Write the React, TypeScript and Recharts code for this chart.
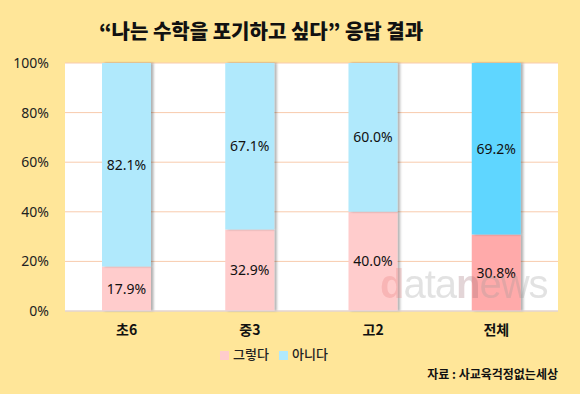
import React from "react";
import {
  BarChart,
  Bar,
  XAxis,
  YAxis,
  CartesianGrid,
  Legend,
  LabelList,
  Cell,
} from "recharts";

const categories = ["초6", "중3", "고2", "전체"];
const yesValues = [17.9, 32.9, 40.0, 30.8];
const noValues = [82.1, 67.1, 60.0, 69.2];
const yTicks = [0, 20, 40, 60, 80, 100];

const YES_FILLS = ["#FFCCCC", "#FFCCCC", "#FFCCCC", "#FFAAAA"];
const NO_FILLS = ["#B0E9FC", "#B0E9FC", "#B0E9FC", "#5FD6FF"];

const FONT = "'Noto Sans', 'Noto Sans CJK KR', sans-serif";
const KR = "'Noto Sans CJK KR', sans-serif";

const data = categories.map((name, i) => ({
  name,
  yes: yesValues[i],
  no: noValues[i],
}));

const pct = (v: any) => `${Number(v).toFixed(1)}%`;

export default function App() {
  return (
    <div
      style={{
        position: "absolute",
        left: 0,
        top: 0,
        width: 580,
        height: 394,
        background: "#FFE699",
        fontFamily: FONT,
      }}
    >
      <svg width={0} height={0} style={{ position: "absolute" }}>
        <defs>
          <filter id="barShadow" x="-10%" y="-5%" width="130%" height="110%">
            <feDropShadow dx={2.5} dy={0} stdDeviation={1} floodColor="#000" floodOpacity={0.3} />
          </filter>
        </defs>
      </svg>

      <div
        style={{
          position: "absolute",
          left: 0,
          width: 522,
          top: 16,
          textAlign: "center",
          fontFamily: KR,
          fontWeight: 900,
          fontSize: 20,
          color: "#111",
        }}
      >
        “나는 수학을 포기하고 싶다” 응답 결과
      </div>

      <div
        style={{
          position: "absolute",
          left: 380,
          top: 264,
          fontFamily: "'Liberation Sans', Arial, sans-serif",
          fontSize: 40,
          lineHeight: "40px",
          letterSpacing: -1,
          opacity: 0.28,
          pointerEvents: "none",
          zIndex: 2,
        }}
      >
        <span style={{ color: "#E77D7D", fontWeight: 700 }}>d</span>
        <span style={{ color: "#9A9A9A" }}>ata</span>
        <span style={{ color: "#9E6A72", fontWeight: 700 }}>n</span>
        <span style={{ color: "#9A9A9A" }}>ews</span>
      </div>

      <BarChart
        width={580}
        height={394}
        data={data}
        margin={{ top: 63, right: 22, left: 0, bottom: 34 }}
      >
        <CartesianGrid
          vertical={false}
          stroke="#F8CBAD"
          fill="#FFFFFF"
          fillOpacity={1}
        />
        <XAxis
          dataKey="name"
          axisLine={{ stroke: "#D9D9E3" }}
          tickLine={false}
          tick={{ fontSize: 14, fill: "#111", fontFamily: KR, fontWeight: 700 }}
          tickMargin={8}
        />
        <YAxis
          domain={[0, 100]}
          ticks={yTicks}
          tickFormatter={(v) => `${v}%`}
          width={65}
          axisLine={false}
          tickLine={false}
          tick={{ fontSize: 14, fill: "#222", fontFamily: FONT }}
          tickMargin={10}
        />
        <Legend
          iconType="square"
          iconSize={9}
          wrapperStyle={{ top: 344, fontFamily: KR, fontSize: 13, fontWeight: 500 }}
          formatter={(value) => <span style={{ color: "#222" }}>{value}</span>}
        />
        <Bar
          dataKey="yes"
          name="그렇다"
          stackId="a"
          barSize={49}
          fill="#FFCCCC"
          filter="url(#barShadow)"
          isAnimationActive={false}
        >
          {data.map((_, i) => (
            <Cell key={i} fill={YES_FILLS[i]} />
          ))}
          <LabelList
            dataKey="yes"
            position="center"
            formatter={pct}
            style={{ fontSize: 14, fill: "#111", fontFamily: FONT }}
          />
        </Bar>
        <Bar
          dataKey="no"
          name="아니다"
          stackId="a"
          barSize={49}
          fill="#B0E9FC"
          filter="url(#barShadow)"
          isAnimationActive={false}
        >
          {data.map((_, i) => (
            <Cell key={i} fill={NO_FILLS[i]} />
          ))}
          <LabelList
            dataKey="no"
            position="center"
            formatter={pct}
            style={{ fontSize: 14, fill: "#111", fontFamily: FONT }}
          />
        </Bar>
      </BarChart>

      <div
        style={{
          position: "absolute",
          right: 22,
          top: 365,
          fontFamily: KR,
          fontWeight: 700,
          fontSize: 12,
          color: "#111",
        }}
      >
        자료 : 사교육걱정없는세상
      </div>
    </div>
  );
}
